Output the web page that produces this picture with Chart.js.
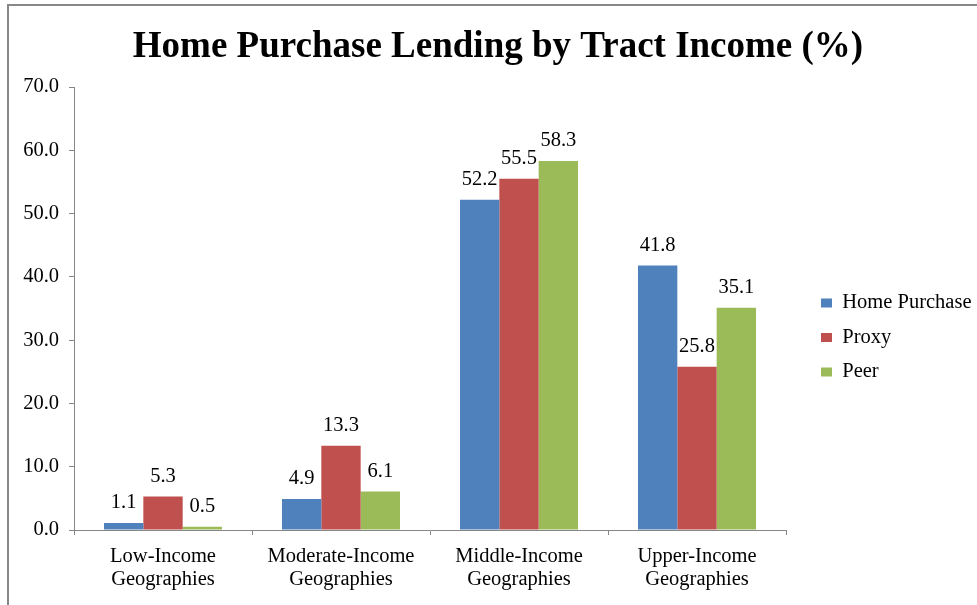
<!DOCTYPE html>
<html>
<head>
<meta charset="utf-8">
<script src="https://cdn.jsdelivr.net/npm/chart.js@4"></script>
<style>
  html, body { margin: 0; padding: 0; background: #fff; overflow: hidden; }
  #frame { position: absolute; left: 7px; top: 4px; width: 1100px; height: 700px;
           border-left: 2px solid #878787; border-top: 2px solid #878787; }
  #wrap { position: absolute; left: 0; top: 0; width: 977px; height: 605px; }
</style>
</head>
<body>
<div id="frame"></div>
<div id="wrap"><canvas id="lendingChart"></canvas></div>
<script>
const categories = [
  ['Low-Income', 'Geographies'],
  ['Moderate-Income', 'Geographies'],
  ['Middle-Income', 'Geographies'],
  ['Upper-Income', 'Geographies']
];
const homePurchase = [1.1, 4.9, 52.2, 41.8];
const proxy = [5.3, 13.3, 55.5, 25.8];
const peer = [0.5, 6.1, 58.3, 35.1];
const yTicks = [0, 10, 20, 30, 40, 50, 60, 70];

const serif = "'Liberation Serif', 'Times New Roman', serif";
const textSize = 20.5;
const axisGray = '#868686';

// prints each bar's value just above it
const barValues = {
  id: 'barValues',
  afterDatasetsDraw(chart) {
    const ctx = chart.ctx;
    ctx.save();
    ctx.font = textSize + 'px ' + serif;
    ctx.fillStyle = '#000';
    ctx.textAlign = 'center';
    ctx.textBaseline = 'middle';
    chart.data.datasets.forEach((ds, i) => {
      chart.getDatasetMeta(i).data.forEach((bar, j) => {
        ctx.fillText(ds.data[j].toFixed(1), bar.x, bar.y - 20);
      });
    });
    ctx.restore();
  }
};

// give the legend column a fixed width so the plot keeps its size
const legendWidth = {
  id: 'legendWidth',
  beforeLayout(chart) {
    const lg = chart.legend;
    if (lg && !lg._fixedWidth) {
      const fit = lg.fit;
      lg.fit = function () { fit.call(this); this.width = 170; };
      lg._fixedWidth = true;
    }
  }
};

const ctx = document.getElementById('lendingChart').getContext('2d');
const lendingChart = new Chart(ctx, {
  type: 'bar',
  data: {
    labels: categories,
    datasets: [
      { label: 'Home Purchase', data: homePurchase, backgroundColor: '#4F81BD' },
      { label: 'Proxy', data: proxy, backgroundColor: '#C0504D' },
      { label: 'Peer', data: peer, backgroundColor: '#9BBB59' }
    ]
  },
  options: {
    responsive: true,
    maintainAspectRatio: false,
    animation: false,
    datasets: {
      bar: { categoryPercentage: 0.663, barPercentage: 1.0 }
    },
    layout: { padding: { left: 19, right: 0, top: 0, bottom: 0 } },
    plugins: {
      title: {
        display: true,
        text: 'Home Purchase Lending by Tract Income (%)',
        color: '#000',
        font: { family: serif, size: 37, weight: 'bold', lineHeight: 1.2 },
        padding: { top: 25, bottom: 17.6 }
      },
      legend: {
        position: 'right',
        fullSize: true,
        title: { display: true, text: '', font: { size: 10, lineHeight: 1 }, padding: { top: 60, bottom: 0 } },
        labels: {
          color: '#000',
          font: { family: serif, size: textSize },
          boxWidth: 11,
          boxHeight: 9,
          padding: 14
        }
      },
      tooltip: { enabled: false }
    },
    scales: {
      x: {
        grid: { display: true, drawOnChartArea: false, drawTicks: true, tickLength: 5, color: axisGray, offset: true },
        border: { color: axisGray },
        ticks: { color: '#000', font: { family: serif, size: textSize, lineHeight: 1.13 }, padding: 10, maxRotation: 0 },
        afterFit(scale) { scale.height = 75; }
      },
      y: {
        min: 0,
        max: 70,
        grid: { display: true, drawOnChartArea: false, tickLength: 5, color: axisGray },
        border: { color: axisGray },
        afterBuildTicks(scale) { scale.ticks = yTicks.map(v => ({ value: v })); },
        ticks: {
          color: '#000',
          font: { family: serif, size: textSize },
          padding: 10,
          callback: v => v.toFixed(1)
        },
        afterFit(scale) { scale.width = 55; }
      },
      // empty strip that keeps the legend clear of the plot
      gap: {
        position: 'right',
        display: true,
        grid: { display: false },
        border: { display: false },
        ticks: { display: false },
        afterFit(scale) { scale.width = 21; }
      }
    }
  },
  plugins: [barValues, legendWidth]
});
</script>
</body>
</html>
